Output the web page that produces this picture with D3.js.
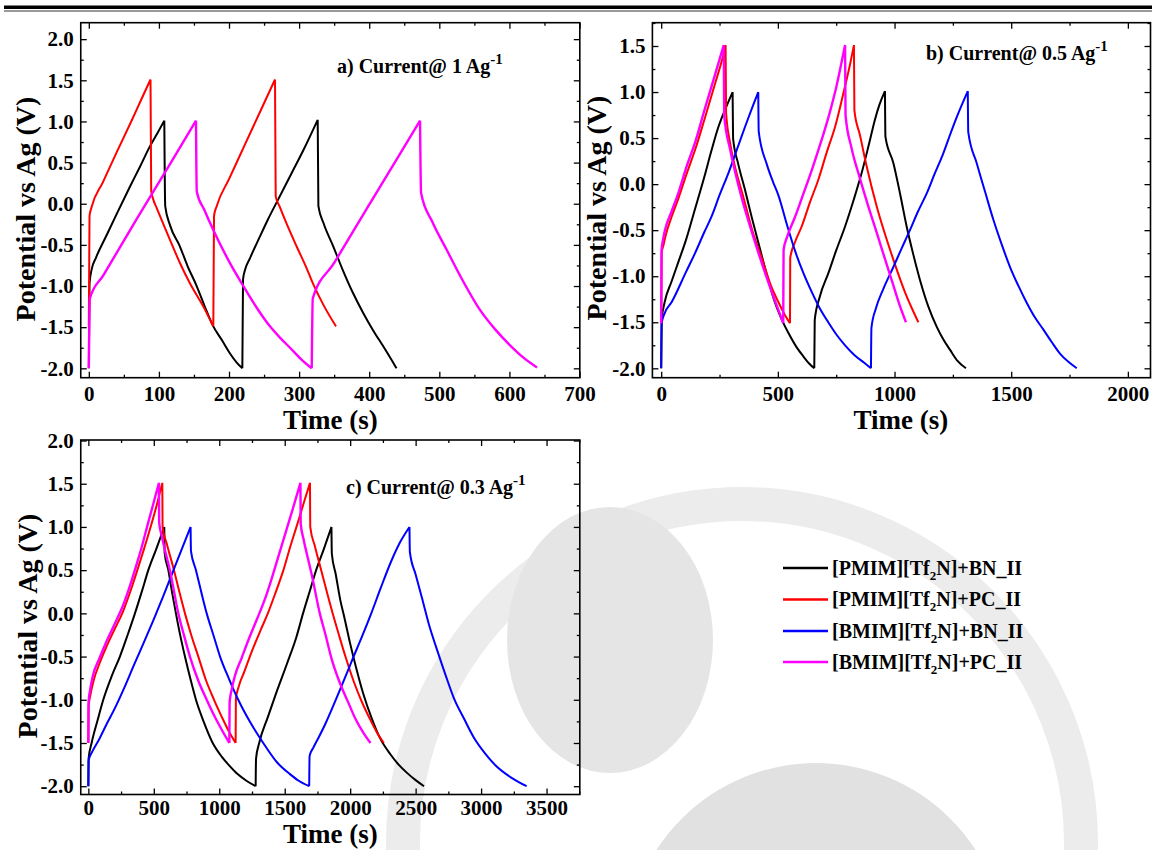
<!DOCTYPE html>
<html>
<head>
<meta charset="utf-8">
<script src="https://cdn.jsdelivr.net/npm/d3@7"></script>
<style>
body { margin: 0; background: #fff; }
text { font-family: "Liberation Serif", "Times New Roman", serif; font-weight: bold; }
</style>
</head>
<body>
<script>
// legend / series
var seriesLabels = [["[PMIM][Tf", "2", "N]+BN_II"], ["[PMIM][Tf", "2", "N]+PC_II"],
                    ["[BMIM][Tf", "2", "N]+BN_II"], ["[BMIM][Tf", "2", "N]+PC_II"]];
var seriesColors = ["#000000", "#ff0000", "#0000ff", "#ff00ff"];

// tick labels
var aXTicks = [0, 100, 200, 300, 400, 500, 600, 700];
var bXTicks = [0, 500, 1000, 1500, 2000];
var cXTicks = [0, 500, 1000, 1500, 2000, 2500, 3000, 3500];
var acYTicks = [-2.0, -1.5, -1.0, -0.5, 0.0, 0.5, 1.0, 1.5, 2.0];
var bYTicks = [-2.0, -1.5, -1.0, -0.5, 0.0, 0.5, 1.0, 1.5];

// a) 1 A/g  (time s, potential V)
var aBlack = [[0,-2.0],[1,-0.97],[4,-0.8],[10,-0.66],[25.5,-0.38],[40,-0.12],[58.8,0.21],[73,0.45],[87.3,0.7],[98,0.86],[107.7,1.01],
  [109,-0.03],[115.8,-0.26],[130,-0.52],[141,-0.76],[153.9,-1.0],[165,-1.24],[177.6,-1.49],[190,-1.66],[201.4,-1.82],[211,-1.93],[219,-2.0],
  [220,-0.92],[223,-0.8],[230,-0.66],[244,-0.4],[255,-0.2],[270,0.05],[288,0.35],[306,0.65],[326.5,1.02],
  [327.5,-0.03],[335,-0.24],[348.8,-0.52],[362,-0.8],[376,-1.07],[391.6,-1.33],[405,-1.53],[422,-1.76],[439,-2.0]];
var aRed = [[0,-1.5],[1,-0.15],[4,-0.04],[20,0.26],[40,0.63],[60,0.99],[75,1.27],[88,1.51],
  [89,0.16],[92,0.05],[96.8,-0.05],[105,-0.22],[115.8,-0.44],[130,-0.72],[144.4,-0.97],[163.4,-1.25],[177.6,-1.49],
  [178.6,-0.15],[182.4,-0.03],[200,0.3],[220,0.67],[245,1.13],[265.6,1.51],
  [266.6,0.09],[272,-0.03],[282,-0.24],[296.5,-0.52],[310,-0.77],[320.3,-0.98],[336,-1.25],[352.6,-1.49]];
var aMagenta = [[0,-2.0],[1.5,-1.15],[20.7,-0.87],[68,-0.19],[115.8,0.48],[152.9,1.01],
  [154,0.15],[165,-0.08],[177.6,-0.32],[200,-0.7],[220.4,-1.0],[240,-1.27],[258.4,-1.49],[273,-1.63],[287,-1.75],[303,-1.89],[318,-2.0],
  [319.5,-1.15],[350,-0.72],[400,-0.01],[440,0.55],[472.5,1.01],
  [474,0.13],[490,-0.22],[510.5,-0.56],[530,-0.88],[558,-1.29],[580,-1.53],[600.9,-1.72],[620,-1.87],[639.4,-1.99]];

// b) 0.5 A/g
var bBlack = [[0,-2.0],[2,-1.475],[15,-1.28],[44,-1.06],[73,-0.85],[107,-0.6],[145,-0.27],[185,0.08],[216,0.37],[245,0.62],[274,0.81],[306,1.0],
  [308,0.5],[330,0.22],[358,-0.05],[390,-0.38],[421,-0.68],[452,-0.98],[484,-1.26],[515,-1.46],[546,-1.62],[580,-1.77],[609,-1.87],[635,-1.95],[656,-2.0],
  [658,-1.475],[680,-1.22],[716,-0.97],[750,-0.72],[788,-0.46],[825,-0.17],[859,0.12],[890,0.43],[916,0.7],[935,0.86],[959,1.01],
  [961,0.515],[995,0.23],[1025,-0.12],[1052,-0.46],[1080,-0.76],[1109,-1.04],[1145,-1.33],[1181,-1.55],[1210,-1.69],[1238,-1.8],[1270,-1.92],[1306,-2.0]];
var bRed = [[0,-1.51],[2,-0.75],[10,-0.66],[20,-0.55],[44,-0.36],[73,-0.16],[110,0.12],[145,0.37],[185,0.7],[232,1.1],[264,1.38],[276,1.51],
  [278,0.78],[295,0.45],[320,0.15],[350,-0.12],[390,-0.5],[431,-0.8],[470,-1.1],[502,-1.28],[530,-1.42],[552,-1.51],
  [553,-0.8],[575,-0.62],[602,-0.46],[640,-0.18],[673,0.045],[710,0.35],[745,0.62],[782,1.0],[805,1.25],[826,1.51],
  [828,0.8],[852,0.53],[880,0.2],[924,-0.245],[960,-0.55],[995,-0.82],[1025,-1.04],[1052,-1.22],[1080,-1.38],[1102,-1.5]];
var bBlue = [[0,-2.0],[2,-1.51],[15,-1.4],[45,-1.28],[107,-0.95],[145,-0.75],[185,-0.52],[216,-0.35],[250,-0.12],[288,0.12],[325,0.38],[359,0.62],[390,0.83],[416,1.0],
  [418,0.57],[452,0.22],[480,0.02],[502,-0.12],[540,-0.45],[573,-0.72],[610,-0.97],[645,-1.17],[680,-1.35],[716,-1.5],[750,-1.63],[788,-1.75],[830,-1.86],[870,-1.94],[899,-2.0],
  [901,-1.56],[920,-1.35],[950,-1.15],[995,-0.9],[1030,-0.7],[1066,-0.5],[1100,-0.3],[1138,-0.1],[1170,0.1],[1209,0.335],[1240,0.55],[1267,0.73],[1314,1.01],
  [1316,0.565],[1352,0.23],[1390,-0.1],[1424,-0.39],[1460,-0.66],[1495,-0.9],[1530,-1.1],[1567,-1.29],[1600,-1.44],[1638,-1.58],[1675,-1.72],[1709,-1.84],[1745,-1.93],[1781,-2.0]];
var bMagenta = [[0,-1.51],[1.5,-0.715],[8,-0.6],[16,-0.5],[44,-0.3],[73,-0.1],[110,0.2],[145,0.45],[185,0.8],[232,1.2],[268,1.51],
  [270,0.75],[295,0.38],[320,0.1],[345,-0.15],[380,-0.45],[416,-0.74],[450,-1.0],[488,-1.27],[523,-1.51],
  [524.5,-0.715],[540,-0.57],[573,-0.36],[610,-0.1],[645,0.15],[680,0.42],[716,0.72],[750,1.05],[788,1.51],
  [790,0.75],[815,0.4],[852,0.06],[885,-0.22],[924,-0.53],[960,-0.82],[995,-1.1],[1020,-1.3],[1049,-1.5]];

// c) 0.3 A/g
var cBlack = [[0,-2.0],[2,-1.68],[25,-1.5],[70,-1.24],[114,-1.0],[180,-0.72],[241,-0.5],[300,-0.25],[356,0.0],[410,0.26],[458,0.5],[520,0.75],[580,1.0],
  [583,0.7],[611,0.5],[640,0.24],[669,0.0],[700,-0.24],[738,-0.5],[780,-0.76],[822,-1.0],[880,-1.25],[950,-1.5],[1020,-1.66],[1082,-1.77],[1140,-1.86],[1210,-1.94],[1278,-2.0],
  [1281,-1.68],[1305,-1.5],[1371,-1.2],[1440,-0.9],[1518,-0.58],[1590,-0.27],[1640,0.0],[1690,0.25],[1740,0.5],[1800,0.75],[1857,1.0],
  [1860,0.69],[1890,0.45],[1925,0.15],[1956,-0.05],[2000,-0.35],[2044,-0.62],[2100,-0.93],[2161,-1.2],[2230,-1.45],[2307,-1.63],[2370,-1.75],[2430,-1.84],[2500,-1.93],[2564,-2.0]];
var cRed = [[0,-1.5],[2,-1.08],[15,-0.95],[40,-0.78],[85,-0.58],[140,-0.38],[202,-0.18],[267,0.03],[320,0.25],[370,0.48],[420,0.72],[470,0.97],[520,1.24],[565,1.51],
  [567,1.0],[600,0.8],[654,0.5],[700,0.22],[738,0.0],[790,-0.27],[840,-0.5],[900,-0.78],[960,-1.0],[1020,-1.2],[1075,-1.37],[1125,-1.5],
  [1127,-0.99],[1150,-0.84],[1190,-0.68],[1254,-0.42],[1320,-0.18],[1371,0.0],[1430,0.24],[1490,0.5],[1540,0.76],[1600,1.05],[1650,1.3],[1693,1.51],
  [1695,1.0],[1730,0.78],[1782,0.48],[1830,0.2],[1866,0.0],[1918,-0.27],[1968,-0.52],[2030,-0.8],[2088,-1.02],[2150,-1.22],[2205,-1.38],[2257,-1.5]];
var cBlue = [[0,-2.0],[2,-1.7],[30,-1.6],[85,-1.45],[140,-1.28],[202,-1.1],[275,-0.86],[348,-0.6],[420,-0.35],[494,-0.09],[570,0.19],[640,0.46],[710,0.73],[781,1.0],
  [784,0.72],[822,0.5],[862,0.25],[904,0.0],[955,-0.25],[1006,-0.5],[1075,-0.76],[1145,-1.0],[1240,-1.27],[1336,-1.5],[1439,-1.72],[1540,-1.86],[1610,-1.94],[1687,-2.0],
  [1690,-1.65],[1720,-1.55],[1751,-1.46],[1810,-1.28],[1868,-1.08],[1940,-0.82],[2015,-0.54],[2090,-0.27],[2161,0.0],[2235,0.3],[2307,0.58],[2380,0.82],[2453,1.0],
  [2456,0.71],[2500,0.45],[2548,0.18],[2600,-0.12],[2672,-0.46],[2730,-0.72],[2792,-0.98],[2870,-1.22],[2942,-1.43],[3030,-1.62],[3111,-1.76],[3230,-1.9],[3348,-2.0]];
var cMagenta = [[0,-1.5],[1.5,-1.03],[12,-0.9],[35,-0.72],[85,-0.52],[140,-0.32],[202,-0.12],[267,0.1],[320,0.33],[365,0.55],[410,0.78],[450,1.01],[495,1.26],[539,1.51],
  [541,1.05],[560,0.9],[590,0.7],[623,0.5],[655,0.25],[687,0.0],[730,-0.25],[776,-0.5],[840,-0.78],[904,-1.0],[960,-1.18],[1020,-1.35],[1077,-1.5],
  [1079,-1.03],[1095,-0.88],[1120,-0.72],[1170,-0.52],[1225,-0.3],[1290,-0.06],[1350,0.17],[1400,0.4],[1450,0.65],[1500,0.9],[1560,1.2],[1620,1.51],
  [1622,1.04],[1645,0.85],[1675,0.65],[1706,0.45],[1768,0.0],[1812,-0.25],[1857,-0.52],[1920,-0.8],[1985,-1.03],[2040,-1.22],[2100,-1.38],[2155,-1.5]];

var W = 1152, H = 850;
var svg = d3.select("body").append("svg")
  .attr("width", W)
  .attr("height", H);

// faint watermark behind the plots
var wm = svg.append("g");
wm.append("circle").attr("cx", 742).attr("cy", 843).attr("r", 339)
  .attr("fill", "none").attr("stroke", "#ececec").attr("stroke-width", 34);
wm.append("ellipse").attr("cx", 610).attr("cy", 640).attr("rx", 103).attr("ry", 133)
  .attr("fill", "#e5e5e5");
wm.append("circle").attr("cx", 816).attr("cy", 953).attr("r", 190)
  .attr("fill", "#e1e1e1");

// double rule at the top
svg.append("rect").attr("x", 4).attr("y", 5.5).attr("width", W - 4).attr("height", 3.5).attr("fill", "#000");
svg.append("rect").attr("x", 4).attr("y", 10).attr("width", W - 4).attr("height", 2).attr("fill", "#9a9a9a");

var line = d3.line().curve(d3.curveMonotoneX);

// cut a charge/discharge record into monotone runs so peaks stay sharp
function runs(data) {
  var out = [], cur = [data[0]], dir = 0;
  for (var i = 1; i < data.length; i++) {
    var d = Math.sign(data[i][1] - data[i - 1][1]);
    if (dir !== 0 && d !== 0 && d !== dir) { out.push(cur); cur = [data[i - 1]]; }
    if (d !== 0) dir = d;
    cur.push(data[i]);
  }
  out.push(cur);
  return out;
}

function minorOf(ticks) {
  var step = ticks[1] - ticks[0], out = [];
  for (var i = 0; i < ticks.length; i++) out.push(ticks[i] + step / 2);
  out.push(ticks[0] - step / 2);
  return out;
}

function drawPanel(p) {
  var x = d3.scaleLinear().domain(p.xDomain).range([p.left, p.right]);
  var y = d3.scaleLinear().domain(p.yDomain).range([p.bottom, p.top]);
  var g = svg.append("g");

  var xMinor = minorOf(p.xTicks).filter(v => v > p.xDomain[0] && v < p.xDomain[1]);
  var yMinor = minorOf(p.yTicks).filter(v => v > p.yDomain[0] && v < p.yDomain[1]);

  function ax(axisFn, scale, pos, major, minor, labels, fmt, pad) {
    var a = g.append("g").attr("transform", pos);
    a.call(axisFn(scale).tickValues(major).tickSizeInner(-6).tickSizeOuter(0)
      .tickPadding(labels ? pad : 0)
      .tickFormat(labels ? fmt : ""));
    var m = g.append("g").attr("transform", pos);
    m.call(axisFn(scale).tickValues(minor).tickSizeInner(-3).tickSizeOuter(0).tickFormat(""));
    [a, m].forEach(s => {
      s.select(".domain").remove();
      s.selectAll("line").attr("stroke", "#000").attr("stroke-width", 1.3);
    });
    a.attr("font-family", null).attr("font-size", null);
    a.selectAll("text").attr("fill", "#000").style("font-size", "21px");
  }
  var fx = d => String(d), fy = d => d.toFixed(1);
  ax(d3.axisBottom, x, "translate(0," + p.bottom + ")", p.xTicks, xMinor, true, fx, p.xPad);
  ax(d3.axisTop, x, "translate(0," + p.top + ")", p.xTicks, xMinor, false, fx, 0);
  ax(d3.axisLeft, y, "translate(" + p.left + ",0)", p.yTicks, yMinor, true, fy, 7);
  ax(d3.axisRight, y, "translate(" + p.right + ",0)", p.yTicks, yMinor, false, fy, 0);

  g.append("rect")
    .attr("x", p.left).attr("y", p.top)
    .attr("width", p.right - p.left).attr("height", p.bottom - p.top)
    .attr("fill", "none").attr("stroke", "#000").attr("stroke-width", 1.6);

  p.series.forEach(s => {
    var d = runs(s.data).map(r => line(r.map(v => [x(v[0]), y(v[1])]))).join("");
    g.append("path")
      .attr("d", d)
      .attr("fill", "none")
      .attr("stroke", seriesColors[s.k])
      .attr("stroke-width", s.k === 3 ? 2.4 : 2)
      .attr("stroke-linejoin", "round");
  });

  // axis titles
  g.append("text")
    .attr("x", (p.left + p.right) / 2 + p.xTitleDx).attr("y", p.xTitleY)
    .attr("text-anchor", "middle").style("font-size", "27px")
    .text("Time (s)");
  g.append("text")
    .attr("transform", "translate(" + p.yTitleX + "," + p.yTitleY + ") rotate(-90)")
    .attr("text-anchor", "middle").attr("dy", "0.35em").style("font-size", "28px")
    .text("Potential vs Ag (V)");

  // panel note
  var t = g.append("text").attr("x", p.noteX).attr("y", p.noteY).style("font-size", "20px");
  t.append("tspan").text(p.note);
  t.append("tspan").attr("dy", -9).style("font-size", "15px").text("-1");
}

drawPanel({
  left: 80.75, right: 579.8, top: 22.7, bottom: 377.7,
  xDomain: [-11.5, 700.4], yDomain: [-2.114, 2.2],
  xTicks: aXTicks, yTicks: acYTicks, xPad: 8,
  xTitleY: 429, xTitleDx: 0, yTitleX: 25, yTitleY: 209,
  note: "a) Current@ 1 Ag", noteX: 337, noteY: 73,
  series: [{k: 0, data: aBlack}, {k: 1, data: aRed}, {k: 3, data: aMagenta}]
});

drawPanel({
  left: 652.4, right: 1150.5, top: 22.7, bottom: 377.7,
  xDomain: [-37.7, 2097], yDomain: [-2.102, 1.753],
  xTicks: bXTicks, yTicks: bYTicks, xPad: 8,
  xTitleY: 429, xTitleDx: -0.5, yTitleX: 596, yTitleY: 208,
  note: "b) Current@ 0.5 Ag", noteX: 926, noteY: 60,
  series: [{k: 0, data: bBlack}, {k: 1, data: bRed}, {k: 2, data: bBlue}, {k: 3, data: bMagenta}]
});

drawPanel({
  left: 80.75, right: 579.8, top: 440, bottom: 794.5,
  xDomain: [-58, 3754], yDomain: [-2.096, 2.006],
  xTicks: cXTicks, yTicks: acYTicks, xPad: 6,
  xTitleY: 843, xTitleDx: 0, yTitleX: 27, yTitleY: 626,
  note: "c) Current@ 0.3 Ag", noteX: 346, noteY: 494,
  series: [{k: 0, data: cBlack}, {k: 1, data: cRed}, {k: 2, data: cBlue}, {k: 3, data: cMagenta}]
});

// legend
var legY = [568, 599.5, 631, 662];
var leg = svg.append("g");
seriesLabels.forEach((lab, i) => {
  leg.append("line")
    .attr("x1", 783).attr("x2", 828).attr("y1", legY[i]).attr("y2", legY[i])
    .attr("stroke", seriesColors[i]).attr("stroke-width", 2.5);
  var t = leg.append("text").attr("x", 832).attr("y", legY[i]).attr("dy", "0.33em")
    .style("font-size", "20px");
  t.append("tspan").text(lab[0]);
  t.append("tspan").attr("dy", 5).style("font-size", "13px").text(lab[1]);
  t.append("tspan").attr("dy", -5).text(lab[2]);
});
</script>
</body>
</html>
